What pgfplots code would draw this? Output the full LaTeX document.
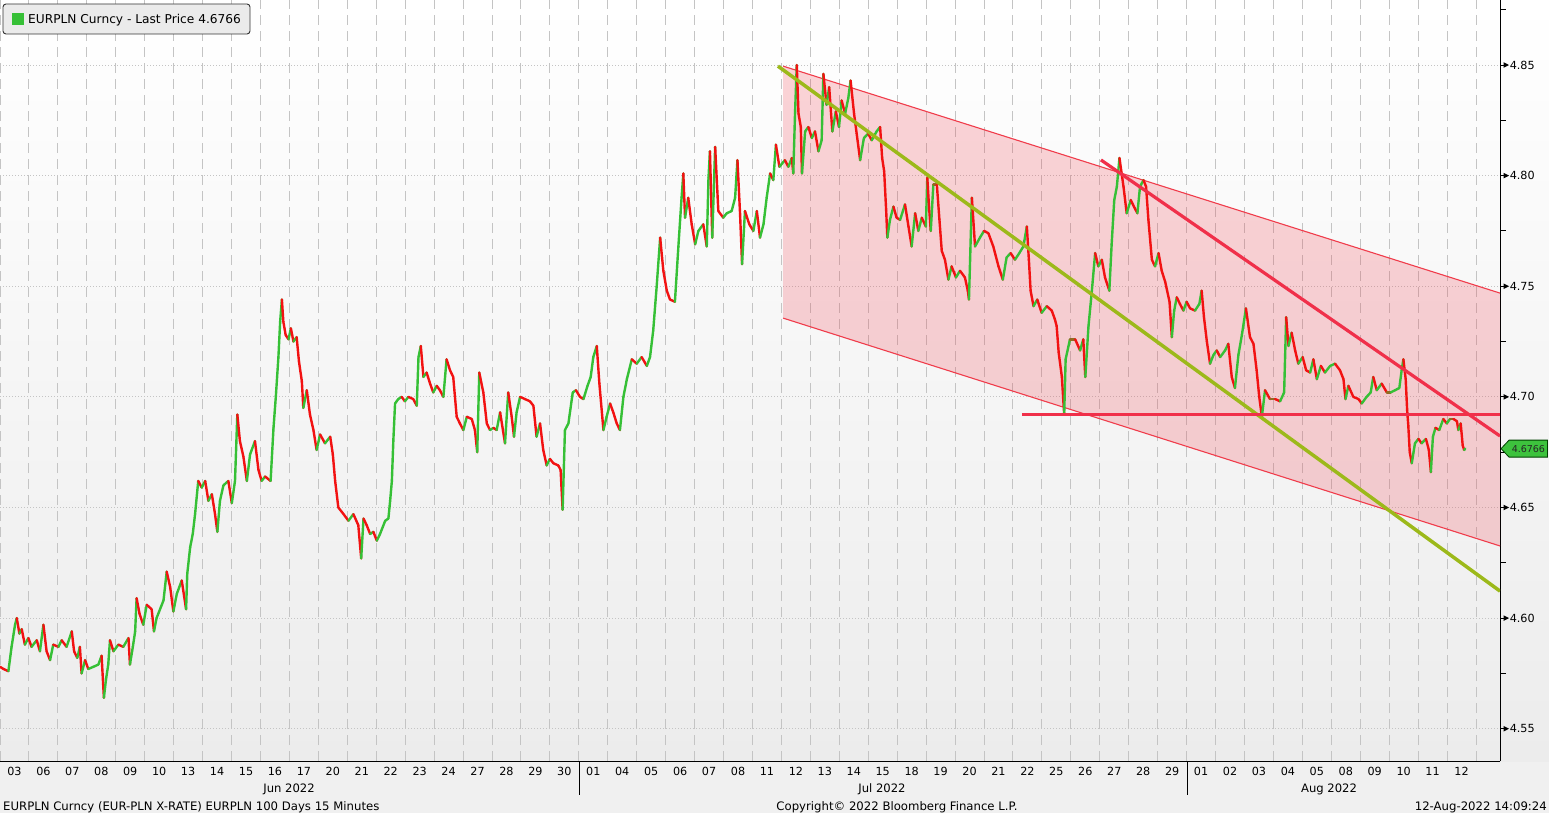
\documentclass[border=0pt]{standalone}
\usepackage{pgfplots}
\pgfplotsset{compat=1.18}
\usepackage{pgfplotstable}
\usepackage{fontspec}
\setmainfont{DejaVu Sans}

\definecolor{bggray}{HTML}{F0F0F0}
\definecolor{candgreen}{HTML}{36C036}
\definecolor{candred}{HTML}{F21212}
\definecolor{chanred}{HTML}{F03C4B}
\definecolor{olivel}{HTML}{9CB91A}
\definecolor{trendred}{HTML}{F0304A}
\definecolor{tagg}{HTML}{3DC23D}
\definecolor{gridg}{HTML}{C4C4C4}

\pgfplotstableread{
x v
0.00 4.578
0.12 4.577
0.29 4.576
0.40 4.587
0.52 4.597
0.58 4.600
0.67 4.593
0.75 4.595
0.86 4.588
0.98 4.591
1.09 4.587
1.27 4.590
1.38 4.585
1.50 4.597
1.61 4.585
1.73 4.581
1.84 4.588
2.02 4.587
2.13 4.590
2.30 4.587
2.48 4.594
2.56 4.585
2.67 4.582
2.76 4.587
2.82 4.575
2.94 4.581
3.05 4.577
3.23 4.578
3.40 4.579
3.51 4.583
3.59 4.564
3.66 4.572
3.74 4.579
3.80 4.590
3.92 4.585
4.09 4.588
4.26 4.587
4.44 4.591
4.49 4.579
4.59 4.587
4.67 4.594
4.72 4.609
4.82 4.602
4.95 4.597
5.07 4.606
5.24 4.604
5.32 4.594
5.41 4.600
5.65 4.608
5.76 4.621
5.88 4.614
5.99 4.603
6.11 4.611
6.28 4.617
6.43 4.604
6.47 4.620
6.57 4.632
6.66 4.638
6.74 4.647
6.85 4.662
6.97 4.659
7.09 4.662
7.20 4.653
7.32 4.656
7.43 4.647
7.51 4.639
7.60 4.653
7.72 4.660
7.89 4.662
8.01 4.652
8.12 4.662
8.20 4.692
8.29 4.680
8.41 4.673
8.53 4.662
8.64 4.674
8.81 4.680
8.93 4.667
9.04 4.662
9.16 4.664
9.35 4.662
9.45 4.686
9.53 4.700
9.62 4.718
9.68 4.734
9.74 4.744
9.79 4.734
9.87 4.728
9.97 4.726
10.05 4.731
10.14 4.725
10.25 4.727
10.33 4.716
10.43 4.707
10.48 4.695
10.60 4.703
10.71 4.692
10.83 4.685
10.94 4.676
11.06 4.683
11.23 4.679
11.41 4.682
11.50 4.674
11.58 4.662
11.69 4.650
11.87 4.647
12.04 4.644
12.21 4.647
12.38 4.642
12.48 4.627
12.56 4.645
12.67 4.642
12.79 4.638
12.90 4.639
13.02 4.635
13.13 4.638
13.31 4.644
13.42 4.645
13.48 4.653
13.54 4.662
13.59 4.680
13.65 4.697
13.76 4.699
13.88 4.700
13.99 4.698
14.11 4.700
14.28 4.699
14.40 4.696
14.46 4.718
14.54 4.723
14.63 4.709
14.74 4.711
14.86 4.706
14.97 4.702
15.09 4.705
15.20 4.703
15.32 4.700
15.43 4.717
15.55 4.712
15.66 4.709
15.78 4.691
15.89 4.688
16.01 4.685
16.13 4.691
16.30 4.690
16.41 4.685
16.49 4.675
16.56 4.711
16.70 4.702
16.82 4.688
16.93 4.685
17.05 4.686
17.16 4.685
17.28 4.693
17.45 4.679
17.56 4.702
17.68 4.691
17.76 4.682
17.85 4.693
17.97 4.700
18.14 4.699
18.31 4.698
18.43 4.696
18.54 4.682
18.66 4.688
18.77 4.676
18.89 4.669
19.00 4.672
19.12 4.670
19.29 4.669
19.37 4.667
19.44 4.649
19.52 4.685
19.64 4.688
19.79 4.702
19.90 4.703
20.04 4.700
20.16 4.699
20.30 4.705
20.41 4.709
20.50 4.718
20.62 4.723
20.71 4.706
20.85 4.685
20.96 4.691
21.08 4.697
21.19 4.693
21.31 4.688
21.42 4.685
21.54 4.700
21.66 4.708
21.83 4.717
22.00 4.715
22.17 4.718
22.35 4.714
22.46 4.718
22.57 4.730
22.69 4.750
22.81 4.772
22.92 4.757
23.04 4.748
23.15 4.744
23.32 4.743
23.44 4.768
23.55 4.790
23.61 4.801
23.67 4.781
23.78 4.790
23.90 4.778
24.02 4.769
24.13 4.775
24.30 4.778
24.42 4.768
24.48 4.799
24.53 4.811
24.61 4.772
24.71 4.813
24.82 4.784
24.99 4.781
25.11 4.783
25.28 4.784
25.40 4.790
25.48 4.807
25.57 4.783
25.64 4.760
25.74 4.784
25.89 4.778
26.03 4.775
26.15 4.784
26.26 4.772
26.38 4.778
26.49 4.790
26.61 4.801
26.72 4.798
26.81 4.814
26.93 4.804
27.12 4.807
27.24 4.804
27.36 4.808
27.41 4.801
27.47 4.828
27.53 4.850
27.59 4.828
27.67 4.822
27.71 4.801
27.82 4.820
27.93 4.822
28.05 4.817
28.16 4.820
28.28 4.811
28.39 4.816
28.45 4.846
28.56 4.832
28.65 4.840
28.76 4.820
28.88 4.829
28.99 4.822
29.08 4.834
29.20 4.828
29.31 4.835
29.39 4.843
29.51 4.828
29.60 4.819
29.72 4.807
29.85 4.817
30.00 4.819
30.12 4.816
30.29 4.820
30.41 4.822
30.48 4.808
30.55 4.802
30.62 4.784
30.66 4.772
30.75 4.780
30.87 4.786
30.98 4.781
31.10 4.780
31.27 4.787
31.39 4.777
31.50 4.768
31.62 4.783
31.73 4.775
31.85 4.781
31.99 4.777
32.04 4.799
32.10 4.786
32.16 4.775
32.25 4.796
32.37 4.796
32.46 4.780
32.54 4.766
32.65 4.762
32.77 4.753
32.88 4.759
33.03 4.754
33.17 4.757
33.34 4.754
33.44 4.748
33.48 4.744
33.58 4.790
33.69 4.768
33.86 4.772
34.00 4.775
34.15 4.774
34.32 4.768
34.50 4.759
34.65 4.753
34.78 4.763
34.92 4.765
35.07 4.762
35.22 4.765
35.36 4.768
35.48 4.777
35.55 4.762
35.61 4.748
35.71 4.741
35.84 4.744
35.99 4.738
36.17 4.741
36.34 4.739
36.45 4.735
36.51 4.732
36.58 4.720
36.69 4.709
36.77 4.692
36.82 4.717
36.97 4.726
37.15 4.726
37.32 4.721
37.43 4.726
37.50 4.709
37.61 4.732
37.72 4.747
37.84 4.765
37.95 4.759
38.07 4.762
38.18 4.754
38.33 4.748
38.41 4.769
38.50 4.789
38.59 4.795
38.68 4.808
38.82 4.795
38.93 4.783
39.07 4.789
39.18 4.786
39.30 4.783
39.39 4.795
39.51 4.798
39.60 4.795
39.68 4.780
39.80 4.762
39.91 4.759
40.03 4.765
40.14 4.757
40.26 4.752
40.41 4.743
40.49 4.727
40.57 4.739
40.66 4.745
40.77 4.742
40.89 4.739
41.00 4.743
41.12 4.740
41.29 4.739
41.44 4.742
41.52 4.748
41.60 4.736
41.70 4.725
41.81 4.715
41.93 4.719
42.04 4.721
42.16 4.718
42.33 4.721
42.44 4.724
42.56 4.709
42.67 4.704
42.79 4.719
42.91 4.728
43.05 4.740
43.19 4.727
43.31 4.724
43.42 4.712
43.51 4.700
43.60 4.691
43.71 4.703
43.88 4.699
44.06 4.699
44.23 4.698
44.37 4.702
44.44 4.736
44.52 4.723
44.63 4.729
44.75 4.721
44.86 4.715
45.01 4.718
45.13 4.712
45.27 4.711
45.38 4.717
45.50 4.708
45.64 4.714
45.78 4.711
45.96 4.714
46.13 4.715
46.30 4.712
46.42 4.708
46.49 4.699
46.59 4.705
46.76 4.700
46.94 4.699
47.05 4.697
47.22 4.700
47.36 4.702
47.45 4.709
47.57 4.703
47.74 4.706
47.92 4.702
48.05 4.702
48.20 4.703
48.35 4.704
48.43 4.712
48.49 4.717
48.57 4.708
48.62 4.694
48.66 4.687
48.71 4.675
48.78 4.670
48.89 4.679
49.01 4.681
49.12 4.679
49.27 4.681
49.37 4.676
49.44 4.666
49.51 4.682
49.60 4.686
49.73 4.685
49.87 4.690
49.99 4.688
50.10 4.690
50.22 4.690
50.34 4.689
50.39 4.685
50.47 4.688
50.54 4.678
50.59 4.676
50.63 4.6766
}\pricedata

\pgfplotstablecreatecol[
  create col/assign/.code={%
    \getthisrow{v}\cur
    \getnextrow{v}\nxt
    \ifx\nxt\empty \def\entry{0}\else
      \pgfmathsetmacro\entry{\nxt-\cur}\fi
    \pgfkeyslet{/pgfplots/table/create col/next content}\entry
  }]{d}\pricedata

\pgfplotstableread{
x v
27.06 4.8495
51.83 4.7469
51.83 4.6326
27.06 4.7356
}\channel
\pgfplotstableread{
x v
27.06 4.8495
51.83 4.7469
}\chanupper
\pgfplotstableread{
x v
27.06 4.7356
51.83 4.6326
}\chanlower
\pgfplotstableread{
x v
26.88 4.8495
51.83 4.6122
}\oliveline
\pgfplotstableread{
x v
38.04 4.8071
51.83 4.6823
}\redtrend
\pgfplotstableread{
x v
35.31 4.6922
51.83 4.6922
}\redflat

\begin{document}
\begin{tikzpicture}[font=\fontsize{11.2}{13}\selectfont]
\path[use as bounding box] (0,0) rectangle (1549pt,-813pt);
\fill[bggray] (0,0) rectangle (1549pt,-813pt);
\shade[top color=white, bottom color={rgb,255:red,236;green,236;blue,236}] (0,0) rectangle (1549pt,-761pt);

\begin{axis}[
  at={(0pt,0pt)}, anchor=north west,
  scale only axis, width=1500pt, height=761pt,
  xmin=0, xmax=51.83, ymin=4.5354, ymax=4.8794,
  axis x line*=bottom, axis y line*=right,
  axis line style={black, line width=1pt},
  tick style={draw=none},
  major tick length=0pt, minor tick length=0pt,
  xtick={0.5,1.5,...,50.5},
  xticklabels={03,06,07,08,09,10,13,14,15,16,17,20,21,22,23,24,27,28,29,30,01,04,05,06,07,08,11,12,13,14,15,18,19,20,21,22,25,26,27,28,29,01,02,03,04,05,08,09,10,11,12},
  xticklabel style={anchor=base, inner sep=0pt, yshift=-14pt},
  minor xtick={0,1,...,51},
  xminorgrids=true, xmajorgrids=false,
  ymajorgrids=true,
  minor grid style={gridg, line width=1pt, dash pattern=on 10pt off 6pt},
  major grid style={gridg, line width=0.8pt, dash pattern=on 1pt off 2pt},
  ytick={4.55,4.60,4.65,4.70,4.75,4.80,4.85},
  /pgf/number format/assume math mode=true,
  yticklabel={\pgfmathprintnumber[fixed,fixed zerofill,precision=2]{\tick}},
  yticklabel style={anchor=west, inner sep=0pt, xshift=9.5pt},
  after end axis/.code={
    \foreach \v in {4.55,4.60,4.65,4.70,4.75,4.80,4.85}{
      \draw[black, line width=1pt] (axis cs:51.83,\v) -- ++(5pt,0);
      \fill[black] (axis cs:51.83,\v) ++(3.5pt,2.8pt) -- ++(5.5pt,-2.8pt) -- ++(-5.5pt,-2.8pt) -- cycle;
    }
    \foreach \v in {4.575,4.625,4.675,4.725,4.775,4.825,4.875}{
      \draw[black, line width=1pt] (axis cs:51.83,\v) -- ++(6pt,0);
    }
    \fill[tagg, draw=black!75!green, line width=0.8pt]
      (axis cs:51.83,4.6766) ++(1pt,0) -- ++(8pt,8.5pt) -- ++(38.5pt,0) -- ++(0,-17pt) -- ++(-38.5pt,0) -- cycle;
    \node[anchor=west, inner sep=0pt, text=black!85, font=\fontsize{9.5}{11}\selectfont] at ([xshift=11.5pt]axis cs:51.83,4.6766) {4.6766};
  },
]
\addplot[fill=chanred, fill opacity=0.22, draw=none] table[x=x,y=v] {\channel} -- cycle;
\addplot[chanred, line width=1.1pt] table[x=x,y=v] {\chanupper};
\addplot[chanred, line width=1.1pt] table[x=x,y=v] {\chanlower};
\addplot[mesh, shader=flat corner, line width=2.4pt, line cap=round, line join=round,
  point meta=\thisrow{d},
  colormap={updown}{color(0)=(candred) color(1)=(candgreen)},
  point meta min=-0.0001, point meta max=0.0001]
  table[x=x,y=v] {\pricedata};
\addplot[olivel, line width=3.5pt] table[x=x,y=v] {\oliveline};
\addplot[trendred, line width=3.2pt] table[x=x,y=v] {\redtrend};
\addplot[trendred, line width=3.2pt] table[x=x,y=v] {\redflat};
\end{axis}

% legend box
\draw[fill={rgb,255:red,235;green,235;blue,235}, draw=black!80, line width=0.9pt, rounded corners=3pt]
  (3pt,-4pt) rectangle (250pt,-34pt);
\fill[candgreen] (12pt,-13pt) rectangle (24pt,-25pt);
\node[anchor=base west, inner sep=0pt, font=\fontsize{12.2}{14}\selectfont] at (28pt,-24pt) {EURPLN Curncy - Last Price 4.6766};

% month separators and labels
\draw[black, line width=1pt] (579pt,-761pt) -- (579pt,-795pt);
\draw[black, line width=1pt] (1187pt,-761pt) -- (1187pt,-795pt);
\node[anchor=base, inner sep=0pt, font=\fontsize{11.6}{13}\selectfont] at (289pt,-792pt) {Jun 2022};
\node[anchor=base, inner sep=0pt, font=\fontsize{11.6}{13}\selectfont] at (882pt,-792pt) {Jul 2022};
\node[anchor=base, inner sep=0pt, font=\fontsize{11.6}{13}\selectfont] at (1329pt,-792pt) {Aug 2022};

% footer
\node[anchor=base west, inner sep=0pt, font=\fontsize{11.7}{13}\selectfont] at (3pt,-810pt) {EURPLN Curncy (EUR-PLN X-RATE) EURPLN 100 Days 15 Minutes};
\node[anchor=base, inner sep=0pt, font=\fontsize{11.7}{13}\selectfont] at (897pt,-810pt) {Copyright© 2022 Bloomberg Finance L.P.};
\node[anchor=base east, inner sep=0pt, font=\fontsize{11.7}{13}\selectfont] at (1547pt,-810pt) {12-Aug-2022 14:09:24};
\end{tikzpicture}
\end{document}
